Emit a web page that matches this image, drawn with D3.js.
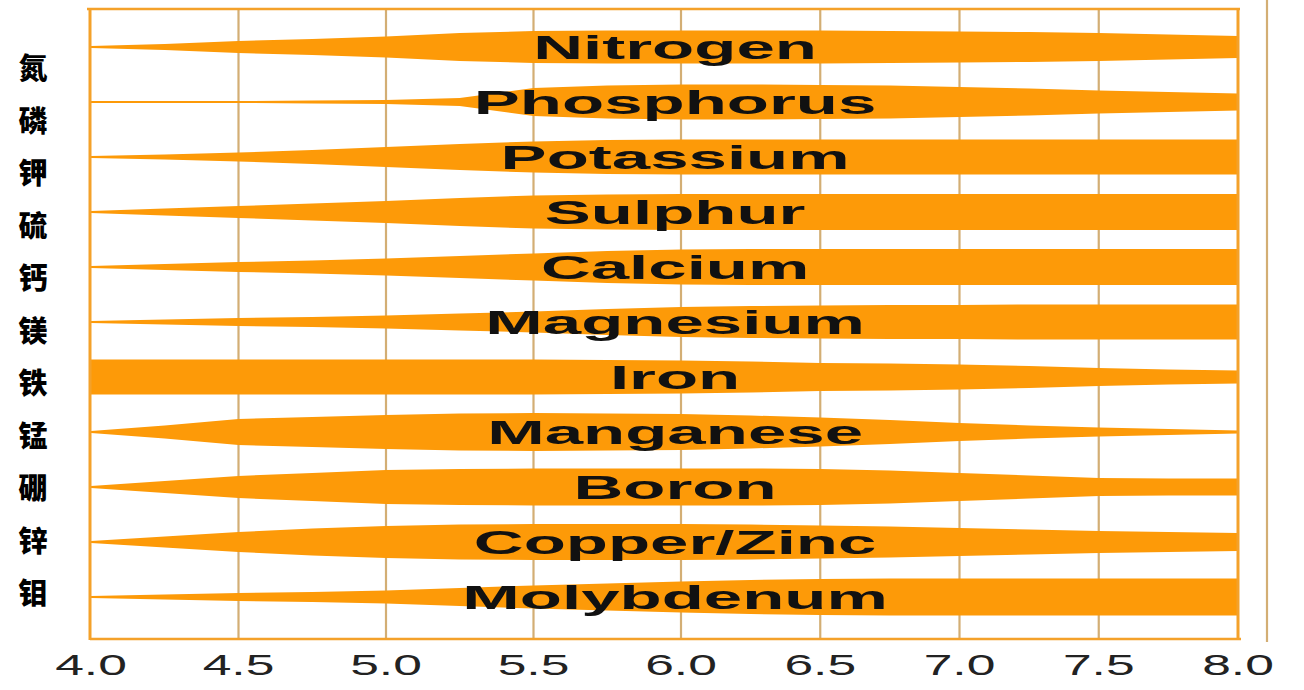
<!DOCTYPE html>
<html>
<head>
<meta charset="utf-8">
<script src="https://cdn.jsdelivr.net/npm/d3@7"></script>
<style>
  html, body { margin: 0; padding: 0; background: #ffffff; }
  svg { display: block; }
</style>
</head>
<body>
<svg id="chart" width="1304" height="690"></svg>
<script>
// ---- data ----
const phSteps = [4.0, 4.25, 4.5, 4.75, 5.0, 5.25, 5.5, 5.75, 6.0, 6.25, 6.5, 6.75, 7.0, 7.25, 7.5, 7.75, 8.0];
const tickValues = [4.0, 4.5, 5.0, 5.5, 6.0, 6.5, 7.0, 7.5, 8.0];
const tickLabels = ["4.0", "4.5", "5.0", "5.5", "6.0", "6.5", "7.0", "7.5", "8.0"];
const nutrients = ["Nitrogen", "Phosphorus", "Potassium", "Sulphur", "Calcium", "Magnesium", "Iron", "Manganese", "Boron", "Copper/Zinc", "Molybdenum"];
const nutrientsCn = ["氮", "磷", "钾", "硫", "钙", "镁", "铁", "锰", "硼", "锌", "钼"];

// relative availability (band thickness) at each pH step
const nitrogen    = [2, 6, 12, 16, 21, 28, 32, 33, 33, 33, 33, 32, 31, 30, 28, 25, 22];
const phosphorus  = [2, 2, 2, 3, 4, 8, 28, 33, 35, 35, 34, 33, 30, 27, 23, 20, 17];
const potassium   = [2, 5, 9, 14, 20, 26, 31, 34, 35, 35, 35, 35, 35, 35, 35, 35, 35];
const sulphur     = [2, 7, 12, 17, 22, 28, 33, 35, 36, 36, 36, 36, 36, 36, 36, 36, 36];
const calcium     = [2, 6, 10, 13, 17, 22, 27, 32, 35, 36, 36, 36, 36, 36, 36, 36, 36];
const magnesium   = [2, 5, 8, 10, 13, 17, 21, 26, 30, 32, 33, 34, 34, 35, 35, 35, 35];
const iron        = [35, 35, 35, 35, 35, 35, 35, 34, 33, 31, 28, 27, 25, 22, 18, 15, 13];
const manganese   = [2, 13, 26, 30, 34, 37, 38, 37, 36, 33, 29, 24, 18, 13, 9, 6, 3];
const boron       = [2, 12, 22, 28, 34, 36, 37, 37, 37, 37, 36, 33, 28, 23, 18, 17, 17];
const copperZinc  = [2, 11, 20, 27, 32, 35, 36, 36, 36, 35, 33, 31, 28, 25, 22, 20, 18];
const molybdenum  = [2, 5, 8, 10, 13, 18, 23, 27, 31, 34, 36, 37, 37, 37, 37, 37, 37];

const seriesValues = [nitrogen, phosphorus, potassium, sulphur, calcium, magnesium, iron, manganese, boron, copperZinc, molybdenum];

// ---- layout ----
const svg = d3.select("#chart");
const plotTop = 9, plotBottom = 639;

const x = d3.scaleLinear().domain([4.0, 6.0, 8.0]).range([91, 681, 1238]);
const yBand = d3.scalePoint().domain(nutrients).range([47, 597]);
const yCn = d3.scalePoint().domain(nutrientsCn).range([68, 593]);
const w = d3.scaleLinear().domain([0, 40]).range([0, 40]);

const bandColor = "#FD9A08";
const frameColor = "#F4A12A";
const gridColor = "#D3AE74";

// gridlines
svg.append("g").selectAll("line")
  .data(tickValues.slice(1, -1))
  .join("line")
  .attr("x1", d => x(d)).attr("x2", d => x(d))
  .attr("y1", plotTop).attr("y2", plotBottom)
  .attr("stroke", gridColor).attr("stroke-width", 2.2);

// extra line at right
svg.append("line")
  .attr("x1", 1267).attr("x2", 1267).attr("y1", 0).attr("y2", 642)
  .attr("stroke", gridColor).attr("stroke-width", 2.2);

// bands
const area = d3.area()
  .x(d => x(d.ph))
  .y0(d => d.cy - w(d.v) / 2)
  .y1(d => d.cy + w(d.v) / 2)
  .curve(d3.curveLinear);

svg.append("g").selectAll("path")
  .data(nutrients.map((n, i) => phSteps.map((p, j) => ({ ph: p, v: seriesValues[i][j], cy: yBand(n) }))))
  .join("path")
  .attr("d", area)
  .attr("fill", bandColor);

// frame
svg.append("line").attr("x1", 87).attr("x2", 1240).attr("y1", plotTop).attr("y2", plotTop)
  .attr("stroke", frameColor).attr("stroke-width", 2.5);
svg.append("line").attr("x1", 90).attr("x2", 1241).attr("y1", plotBottom).attr("y2", plotBottom)
  .attr("stroke", frameColor).attr("stroke-width", 2.5);
svg.append("line").attr("x1", x(4.0) - 1).attr("x2", x(4.0) - 1).attr("y1", plotTop).attr("y2", plotBottom + 1)
  .attr("stroke", frameColor).attr("stroke-width", 3);
svg.append("line").attr("x1", x(8.0)).attr("x2", x(8.0)).attr("y1", plotTop).attr("y2", plotBottom + 1)
  .attr("stroke", frameColor).attr("stroke-width", 3);

// English labels on bands
svg.append("g").selectAll("text")
  .data(nutrients)
  .join("text")
  .attr("transform", d => `translate(${x(5.98)},${yBand(d) + 12}) scale(2.03,1)`)
  .attr("text-anchor", "middle")
  .attr("font-family", "'Liberation Sans', Arial, sans-serif")
  .attr("font-weight", "bold")
  .attr("font-size", 34)
  .attr("fill", "#111")
  .text(d => d);

// Chinese labels
svg.append("g").selectAll("text")
  .data(nutrientsCn)
  .join("text")
  .attr("x", 33)
  .attr("y", d => yCn(d) + 11)
  .attr("text-anchor", "middle")
  .attr("font-family", "'Noto Sans CJK SC', sans-serif")
  .attr("font-weight", 900)
  .attr("font-size", 29)
  .attr("fill", "#000")
  .text(d => d);

// x-axis tick labels
svg.append("g").selectAll("text")
  .data(tickValues)
  .join("text")
  .attr("transform", (d) => `translate(${x(d)},${675}) scale(1.72,1)`)
  .attr("text-anchor", "middle")
  .attr("font-family", "'Liberation Sans', Arial, sans-serif")
  .attr("font-size", 30)
  .attr("fill", "#222")
  .text((d, i) => tickLabels[i]);
</script>
</body>
</html>
